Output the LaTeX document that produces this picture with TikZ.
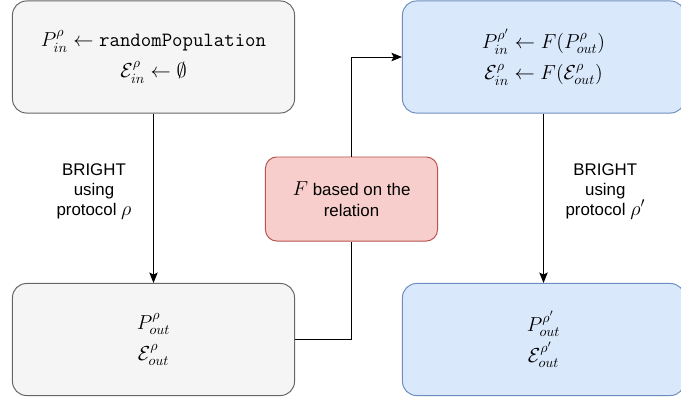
\documentclass[tikz,border=0pt]{standalone}
\usepackage{fontspec}
\setmainfont{Liberation Sans}
\usepackage{amssymb}
\usepackage{amsmath}
\usetikzlibrary{arrows.meta}

\definecolor{grayfill}{HTML}{F5F5F5}
\definecolor{graydraw}{HTML}{666666}
\definecolor{bluefill}{HTML}{DAE8FC}
\definecolor{bluedraw}{HTML}{6C8EBF}
\definecolor{redfill}{HTML}{F8CECC}
\definecolor{reddraw}{HTML}{B85450}

\newcommand{\lblmath}[1]{{\fontsize{14.4}{14.4}\selectfont$#1$}}

\tikzset{
  state/.style={rounded corners=10pt, line width=0.7pt, align=center,
    minimum width=7.05cm, minimum height=2.8cm,
    font=\fontsize{14.4}{21}\selectfont},
  grayst/.style={state, draw=graydraw, fill=grayfill},
  bluest/.style={state, draw=bluedraw, fill=bluefill},
  relbox/.style={rounded corners=8pt, line width=0.7pt, align=center,
    draw=reddraw, fill=redfill, minimum width=4.3cm, minimum height=2.1cm,
    font=\fontsize{12}{15}\selectfont},
  steplabel/.style={align=center, font=\fontsize{12}{14.2}\selectfont},
  flow/.style={line width=0.7pt, -{Stealth[length=7.5pt,width=6pt,inset=1.5pt]}}
}

\begin{document}
\begin{tikzpicture}[x=0.025cm, y=-0.025cm]
  \useasboundingbox (0,0) rectangle (681,401);

  % states of the first run (protocol rho)
  \node[grayst] (pin) at (153.5,57)
    {$P^{\rho}_{in} \leftarrow \texttt{randomPopulation}$\\[1pt]
     $\mathcal{E}^{\rho}_{in} \leftarrow \emptyset$};
  \node[grayst] (pout) at (153.5,339.5)
    {$P^{\rho}_{out}$\\[1pt] $\mathcal{E}^{\rho}_{out}$};

  % states of the second run (protocol rho')
  \node[bluest] (qin) at (543.5,57)
    {$P^{\rho'}_{in} \leftarrow F(P^{\rho}_{out})$\\[1pt]
     $\mathcal{E}^{\rho}_{in} \leftarrow F(\mathcal{E}^{\rho}_{out})$};
  \node[bluest] (qout) at (543.5,339.5)
    {$P^{\rho'}_{out}$\\[1pt] $\mathcal{E}^{\rho'}_{out}$};

  % mapping between the two runs
  \node[relbox] (rel) at (351.5,199) {\lblmath{F} based on the\\relation};

  \draw[flow] (pin) -- node[steplabel, left=12pt, yshift=5pt]
    {BRIGHT\\using\\protocol \lblmath{\rho}} (pout);
  \draw[flow] (qin) -- node[steplabel, right=12pt, yshift=5pt]
    {BRIGHT\\using\\protocol \lblmath{\rho'}} (qout);

  \draw[line width=0.7pt] (pout.east) -| (rel.south);
  \draw[flow] (rel.north) |- (qin.west);
\end{tikzpicture}
\end{document}
